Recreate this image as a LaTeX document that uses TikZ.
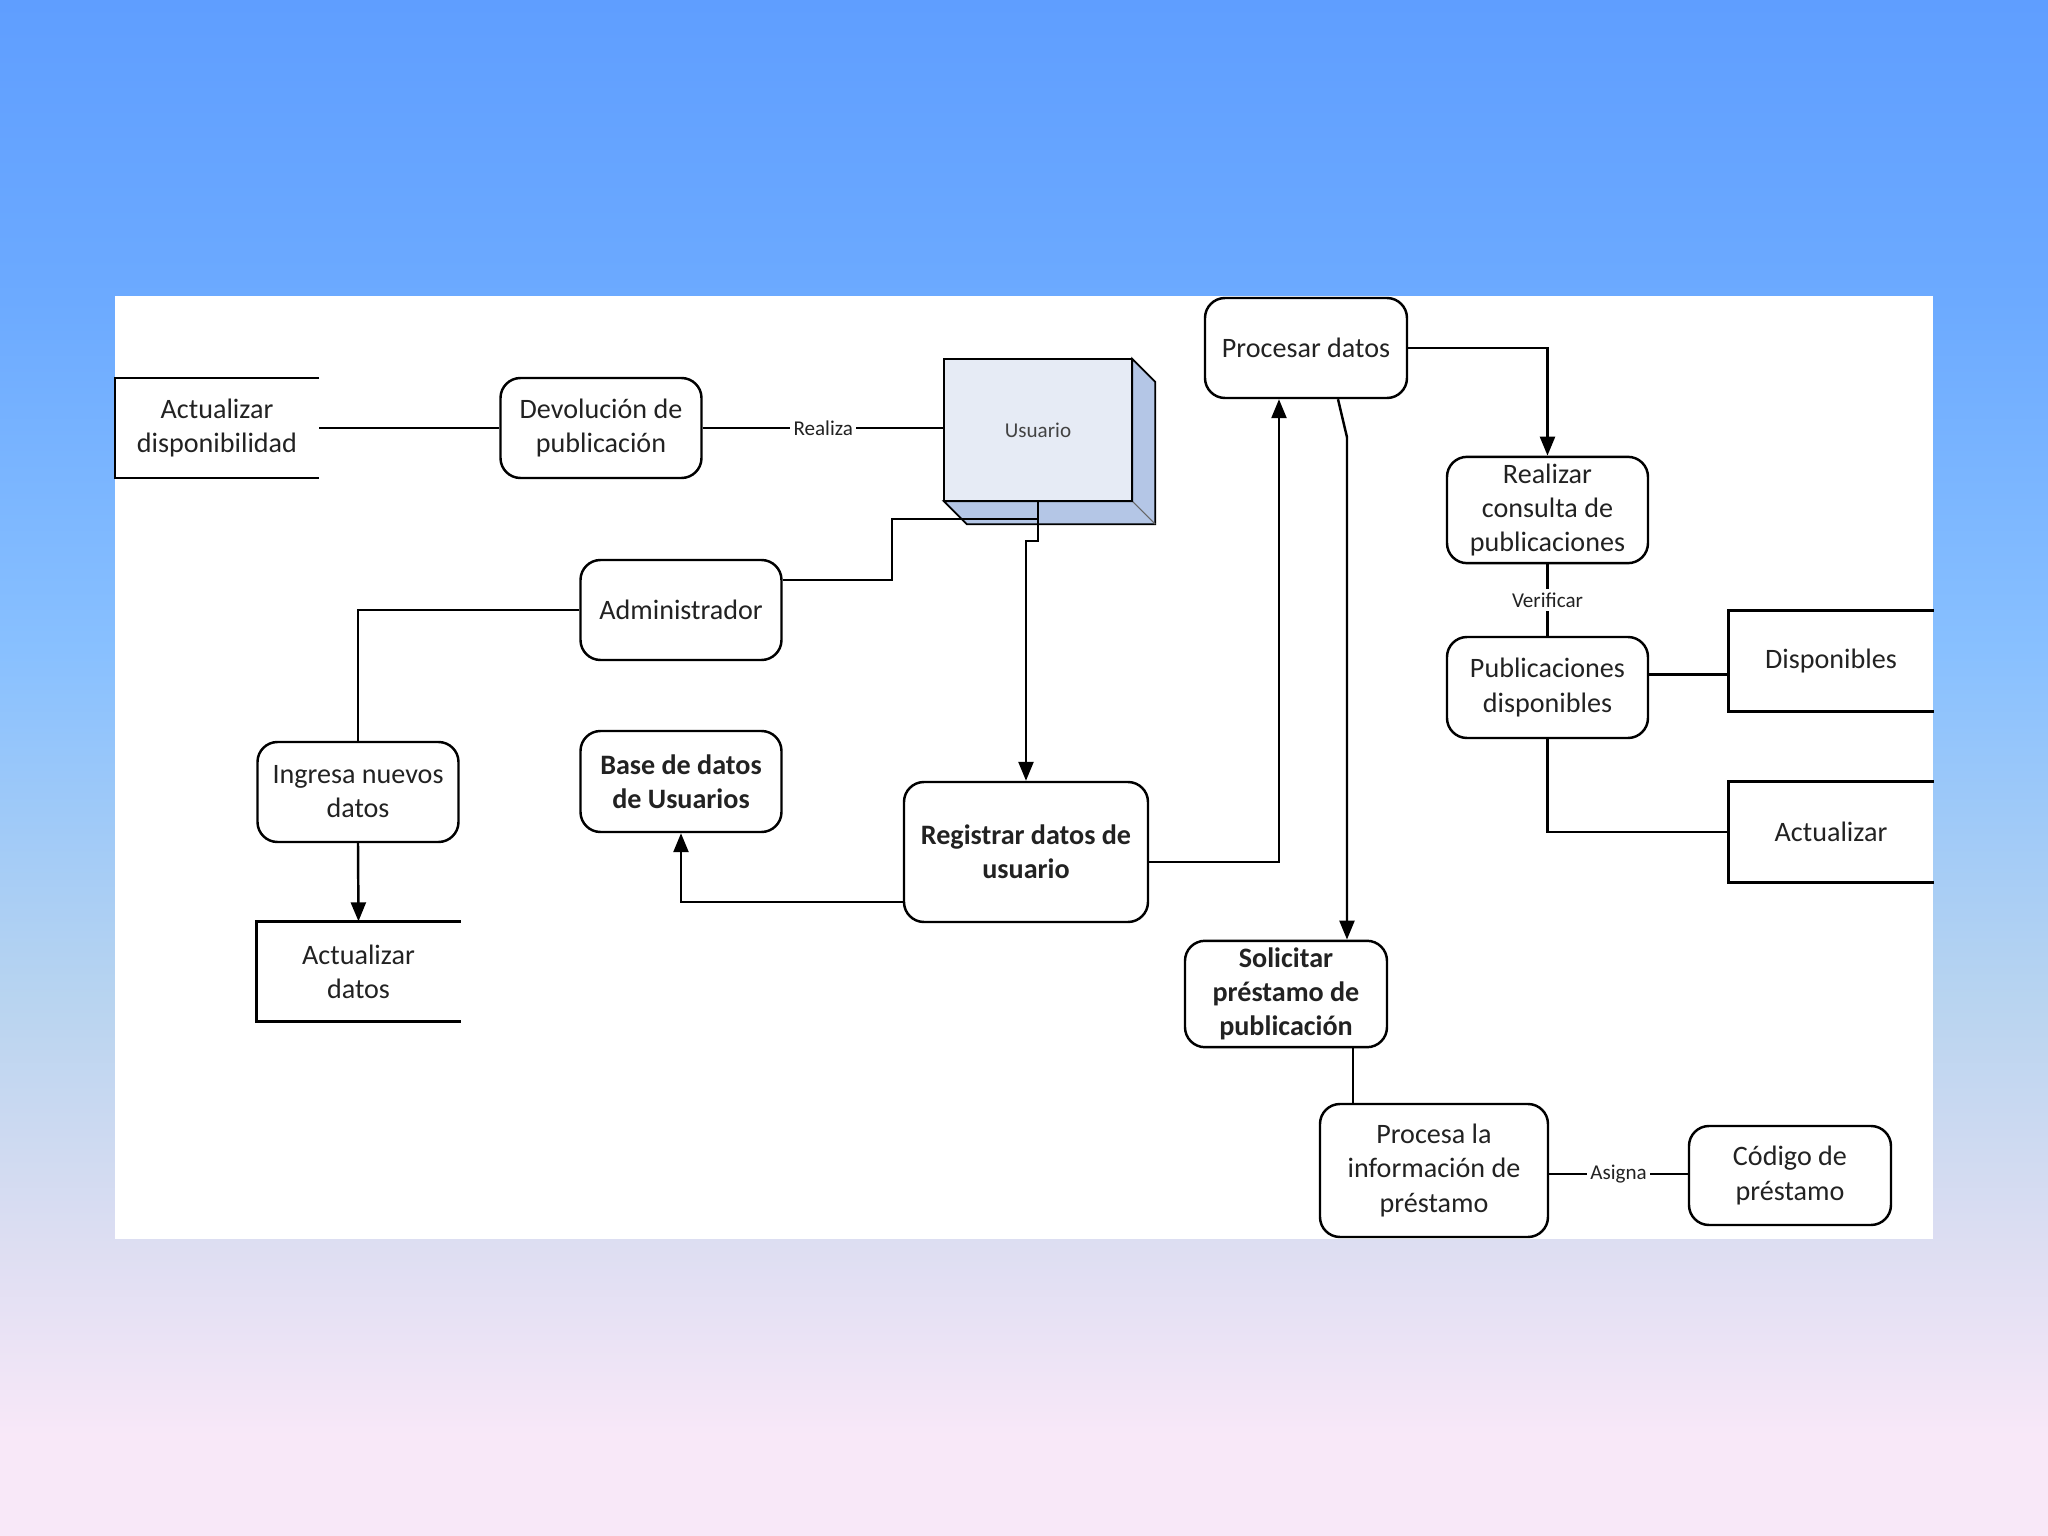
\documentclass[tikz,border=0pt]{standalone}
\usepackage{fontspec}
\setmainfont{Carlito}
\usetikzlibrary{arrows.meta,calc}
\definecolor{bgtop}{HTML}{5F9EFF}
\definecolor{bgupper}{HTML}{6CAAFF}
\definecolor{bgmid}{HTML}{88C0FF}
\definecolor{bglow}{HTML}{B8D4F0}
\definecolor{bgpale}{HTML}{DEDEF2}
\definecolor{bgbot}{HTML}{F8E8F8}
\definecolor{boxfront}{HTML}{E6EBF5}
\definecolor{boxside}{HTML}{B4C6E6}
\definecolor{ink}{HTML}{222222}
\pgfdeclareverticalshading{backdrop}{100bp}{color(0bp)=(bgbot); color(28.25bp)=(bgbot); color(34.3bp)=(bgpale); color(42.45bp)=(bglow); color(53.85bp)=(bgmid); color(65.25bp)=(bgupper); color(75bp)=(bgtop); color(100bp)=(bgtop)}
\newcommand{\Depth}{0.23}

\begin{document}
\begin{tikzpicture}[
    font=\fontsize{8}{9.7}\selectfont, text=ink,
    line/.style={draw=black, line width=0.7pt},
    arr/.style={line, -{Triangle[length=1.9mm, width=1.5mm]}},
    proc/.style={draw=black, line width=0.7pt, rounded corners=0.2cm, fill=white, align=center, inner sep=2pt, minimum width=2.01cm, minimum height=1.0cm},
    strong/.style={font=\fontsize{8}{9.7}\selectfont\bfseries},
    store/.style={align=center, inner sep=2pt, minimum width=2.03cm, minimum height=0.99cm},
    lbl/.style={fill=white, inner sep=1pt, font=\fontsize{6}{7}\selectfont},
  ]

% --- Backdrop and white sheet ---------------------------------------------------
\shade[shading=backdrop] (0,0) rectangle (20.48,-15.36);
\fill[white] (1.15,-2.96) rectangle (19.33,-12.39);

% --- The user box ----------------------------------------------------------------
\node[fill=boxfront, minimum width=1.87cm, minimum height=1.41cm, font=\fontsize{6}{7}\selectfont, text=ink!85] (usuario) at (10.38,-4.30) {Usuario};
\filldraw[boxside, draw=black, line width=0.5pt] (usuario.north east) -- ++(\Depth,-\Depth) -- ($(usuario.south east)+(\Depth,-\Depth)$) -- ($(usuario.south west)+(\Depth,-\Depth)$) -- (usuario.south west) -- (usuario.south east) -- cycle;
\draw[line width=0.3pt, black!60] (usuario.south east) -- ++(\Depth,-\Depth);
\draw[line] (usuario.north west) rectangle (usuario.south east);

% --- Processes -----------------------------------------------------------------------
\node[proc] (devol) at (6.01,-4.28) {Devolución de\\publicación};
\node[proc] (admin) at (6.81,-6.10) {Administrador};
\node[proc] (ingresa) at (3.58,-7.92) {Ingresa nuevos\\datos};
\node[proc, strong, minimum height=1.01cm] (basedatos) at (6.81,-7.815) {Base de datos\\de Usuarios};
\node[proc, strong, minimum width=2.44cm, minimum height=1.40cm] (registrar) at (10.26,-8.52) {Registrar datos de\\usuario};
\node[proc, minimum width=2.02cm] (procesar) at (13.06,-3.48) {Procesar datos};
\node[proc] (realizar) at (15.475,-5.10) {Realizar\\consulta de\\publicaciones};
\node[proc, minimum height=1.01cm] (pubdisp) at (15.475,-6.875) {Publicaciones\\disponibles};
\node[proc, strong, minimum width=2.02cm] (solicitar) at (12.86,-9.94) {Solicitar\\préstamo de\\publicación};
\node[proc, minimum width=2.28cm, minimum height=1.33cm] (procesa) at (14.34,-11.705) {Procesa la\\información de\\préstamo};
\node[proc, minimum width=2.02cm, minimum height=0.99cm] (codigo) at (17.90,-11.755) {Código de\\préstamo};

% --- Stores (open on the right) ------------------------------------------------------
\node[store] (actdisp) at (2.17,-4.28) {Actualizar\\disponibilidad};
\node[store] (actdatos) at (3.585,-9.715) {Actualizar\\datos};
\node[store, minimum width=2.04cm, minimum height=1.0cm] (disponibles) at (18.31,-6.61) {Disponibles};
\node[store, minimum width=2.04cm, minimum height=1.0cm] (actualizar) at (18.31,-8.32) {Actualizar};
\foreach \s in {actdisp, actdatos, disponibles, actualizar} {
  \draw[line] (\s.north east) -- (\s.north west) -- (\s.south west) -- (\s.south east);
}

% --- Connectors ------------------------------------------------------------------------
\draw[line] (actdisp.east) -- (actdisp.east -| devol.west);
\draw[line] (devol.east) -- node[lbl] {Realiza} (devol.east -| usuario.west);
\coordinate (ubend) at (8.92,-5.19);
\draw[line] (usuario.south) |- (ubend) |- ($(admin.east)+(0,0.30)$);
\draw[arr] (usuario.south) -- ++(0,-0.40) -| (registrar.north);
\draw[line] (admin.west) -| (ingresa.north);
\draw[arr] (ingresa.south) -- (actdatos.north);
\draw[arr] ($(registrar.west)+(0,-0.50)$) -| (basedatos.south);
\draw[arr] ($(registrar.east)+(0,-0.10)$) -| ($(procesar.south)+(-0.27,0)$);
\draw[arr] (procesar.east) -| (realizar.north);
\draw[arr] ($(procesar.south)+(0.32,0)$) -- ($(procesar.south)+(0.41,-0.38)$) -- ($(solicitar.north)+(0.61,0)$);
\draw[line] (realizar.south) -- node[lbl] {Verificar} (pubdisp.north);
\coordinate (pd) at ($(pubdisp.east)+(0,0.13)$);
\draw[line] (pd) -- (pd -| disponibles.west);
\draw[line] (pubdisp.south) |- (actualizar.west);
\coordinate (sp) at ($(solicitar.south)+(0.67,0)$);
\draw[line] (sp) -- (sp |- procesa.north);
\coordinate (pc) at ($(procesa.east)+(0,-0.035)$);
\draw[line] (pc) -- node[lbl] {Asigna} (pc -| codigo.west);

\end{tikzpicture}
\end{document}
